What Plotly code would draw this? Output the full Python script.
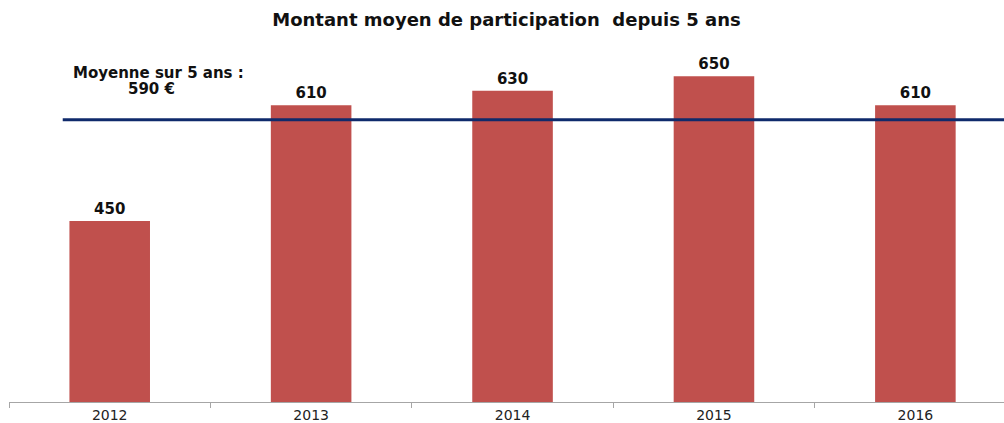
import plotly.graph_objects as go

years = ["2012", "2013", "2014", "2015", "2016"]
amounts = [450, 610, 630, 650, 610]
average = 590
title_text = "Montant moyen de participation  depuis 5 ans"
avg_label_1 = "Moyenne sur 5 ans :"
avg_label_2 = "590 €"

FONT = "DejaVu Sans"
plot_top, plot_bottom = 40, 402

fig = go.Figure()
fig.add_trace(go.Bar(
    x=years, y=amounts, width=0.4,
    marker=dict(color="#C0504D", line=dict(width=0)),
    text=[str(v) for v in amounts], textposition="outside", cliponaxis=False,
    textfont=dict(family=FONT, size=15, color="#111111", weight="bold"),
    hoverinfo="x+y",
))

fig.add_shape(type="line", xref="paper", yref="y", x0=0.054, x1=1.0,
              y0=average, y1=average, line=dict(color="#0F2A6B", width=3))

for txt, xpx, ypx in [(avg_label_1, 158, 73), (avg_label_2, 151, 89)]:
    fig.add_annotation(x=(xpx - 9) / 995, xref="paper",
                       y=(plot_bottom - ypx) / (plot_bottom - plot_top), yref="paper",
                       yanchor="middle", xanchor="center", text=txt, showarrow=False,
                       font=dict(family=FONT, size=15, color="#111111", weight="bold"))

fig.update_layout(
    width=1004, height=423,
    margin=dict(l=9, r=0, t=40, b=21),
    paper_bgcolor="white", plot_bgcolor="white",
    showlegend=False,
    title=dict(text=title_text, x=0.5, xanchor="center", xref="paper",
               y=1 - 20 / 423, yanchor="middle",
               font=dict(family=FONT, size=18, color="#111111", weight="bold")),
    xaxis=dict(range=[-0.5, 4.44], showline=True, linecolor="#A6A6A6", linewidth=1,
               ticks="outside", tickson="boundaries", ticklen=5, tickcolor="#A6A6A6",
               tickfont=dict(family=FONT, size=14, color="#222222"), showgrid=False,
               fixedrange=True),
    yaxis=dict(range=[200, 700], visible=False, showgrid=False, fixedrange=True),
)

fig.write_html("out.html", config={"displayModeBar": False},
               post_script="document.body.style.margin='0';document.body.style.overflow='hidden';")
